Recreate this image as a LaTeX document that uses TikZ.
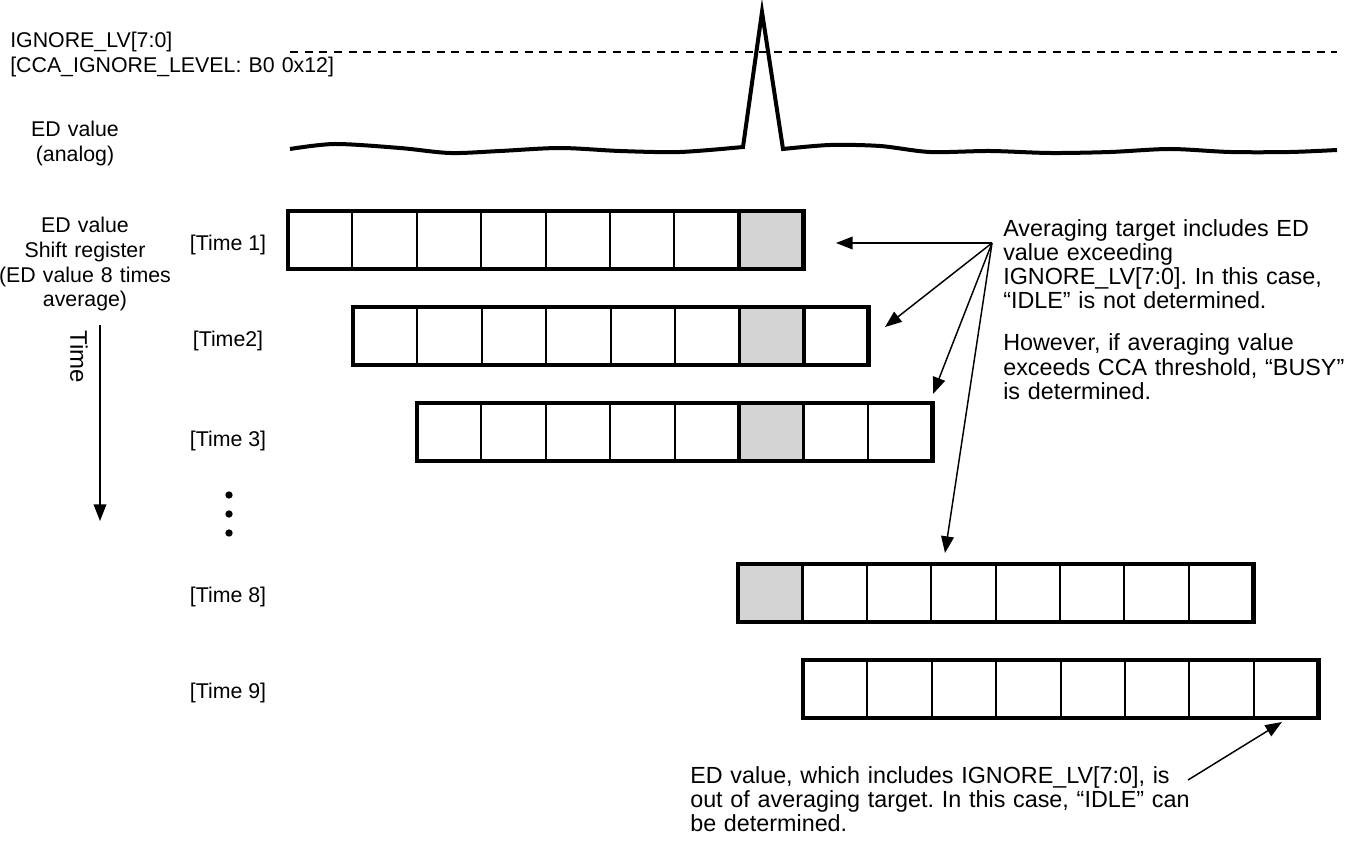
\documentclass[tikz,border=0pt]{standalone}
\usepackage{fontspec}
\setmainfont{Liberation Sans}
\usetikzlibrary{arrows.meta}
\frenchspacing
\definecolor{cellgray}{HTML}{D4D4D4}
\newcommand{\regrow}[4]{% name, x0, ytop, shaded index (-1 = none)
  \coordinate (#1) at (#2,#3);
  \ifnum#4>-1
    \fill[cellgray] ({#2+#4*64.4},#3) rectangle ++(64.4,58);
  \fi
  \foreach \i in {1,...,7} \draw[cellline] ({#2+\i*64.4},#3) -- ++(0,58);
  \draw[outer] (#2,#3) rectangle ++(515.2,58);
  \ifnum#4>-1
    \draw[hot] ({#2+#4*64.4},#3) rectangle ++(64.4,58);
  \fi
}
\begin{document}
\begin{tikzpicture}[x=0.75pt,y=-0.75pt,
  small/.style={font=\fontsize{16}{18.4}\selectfont, inner sep=0pt},
  large/.style={font=\fontsize{17.5}{18}\selectfont, inner sep=0pt},
  cellline/.style={line width=1.5pt},
  outer/.style={line width=3.6pt},
  hot/.style={line width=2.6pt},
  conn/.style={line width=1.1pt, -{Triangle[length=12.5pt,width=9.5pt]}},
]
\useasboundingbox (0,0) rectangle (1370,841);

% ignore level (dashed)
\draw[line width=1.5pt, dash pattern=on 6pt off 5pt] (290,52) -- (1337,52);

% analog ED value
\draw[line width=3pt, line join=miter]
  plot[smooth] coordinates {(290,149) (335,144) (400,148) (450,153) (500,151) (560,148) (620,151) (680,152) (743,147)}
  -- (762,12) --
  plot[smooth] coordinates {(783,149) (830,145) (880,146) (930,152) (990,151) (1050,153) (1110,152) (1170,149) (1230,152) (1290,152) (1337,150)};

% left labels
\node[small, text width=280pt, align=left, anchor=base west] (lvl) at (10,48)
  {IGNORE\_LV[7:0]\\{}[CCA\_IGNORE\_LEVEL: B0 0x12]};
\node[small, text width=100pt, align=center, anchor=base] (eda) at (75,137)
  {ED value\\(analog)};
\node[small, text width=140pt, align=center, anchor=base] (eds) at (85,233)
  {ED value\\Shift register\\(ED value 8 times\\average)};
\node[font=\fontsize{18}{20}\selectfont, inner sep=0pt, rotate=-90] (tlabel) at (79,357) {Time};
\coordinate (ta) at (100,325);
\coordinate (tb) at (100,521);
\draw[conn] (ta) -- (tb);

% time labels
\node[small, anchor=base] (l1) at (228,251) {[Time 1]};
\node[small, anchor=base] (l2) at (228,347) {[Time2]};
\node[small, anchor=base] (l3) at (228,446) {[Time 3]};
\node[small, anchor=base] (l8) at (228,602) {[Time 8]};
\node[small, anchor=base] (l9) at (228,698) {[Time 9]};

% dots
\foreach \yy/\nm in {495/d1,514/d2,533/d3}
  \node[circle, fill=black, inner sep=0pt, minimum size=5.5pt] (\nm) at (229,\yy) {};

% shift register rows
\regrow{r1}{288}{211}{7}
\regrow{r2}{353}{307}{6}
\regrow{r3}{417}{403}{5}
\regrow{r8}{738}{564}{0}
\regrow{r9}{803}{660}{-1}

% notes
\node[large, text width=330pt, align=left, anchor=base west] (note1) at (1003,237)
  {Averaging target includes ED\\value exceeding\\IGNORE\_LV[7:0]. In this case,\\“IDLE” is not determined.};
\node[large, text width=330pt, align=left, anchor=base west] (note2) at (1003,351)
  {However, if averaging value\\exceeds CCA threshold, “BUSY”\\is determined.};
\node[large, text width=400pt, align=left, anchor=base west] (note3) at (690,783)
  {ED value, which includes IGNORE\_LV[7:0], is\\out of averaging target. In this case, “IDLE” can\\be determined.};

% connectors
\coordinate (o) at (992,243);
\coordinate (t1) at (836,243);
\coordinate (t2) at (885,327);
\coordinate (t3) at (933,394);
\coordinate (t8) at (945,553);
\draw[conn] (o) -- (t1);
\draw[conn] (o) -- (t2);
\draw[conn] (o) -- (t3);
\draw[conn] (o) -- (t8);
\coordinate (b0) at (1188,780);
\coordinate (b1) at (1282,722);
\draw[conn] (b0) -- (b1);
\end{tikzpicture}
\end{document}
